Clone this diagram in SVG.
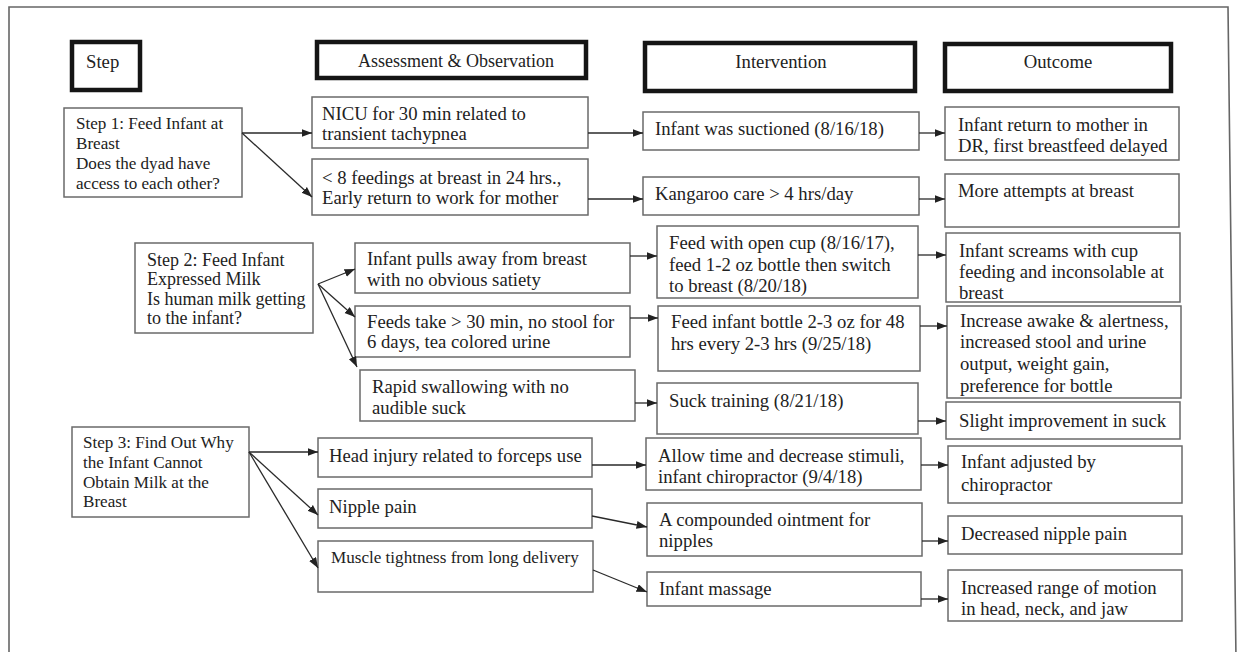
<svg xmlns="http://www.w3.org/2000/svg" width="1240" height="652" viewBox="0 0 1240 652">
<defs>
<marker id="ah" markerUnits="userSpaceOnUse" markerWidth="11" markerHeight="9" refX="10.5" refY="4" orient="auto">
<path d="M0,0 L10.5,4 L0,8 z" fill="#222"/>
</marker>
<style>
.b{fill:#fff;stroke:#6a6a6a;stroke-width:1.5}
.h{fill:#fff;stroke:#151515;stroke-width:4.5}
text{font-family:"Liberation Serif","Times New Roman",serif;font-size:18.7px;fill:#222}
.m{text-anchor:middle}
.s17 text{font-size:17.1px}
.s18 text{font-size:18px}
#connectors line{stroke:#2a2a2a;stroke-width:1.3;marker-end:url(#ah)}
</style>
</defs>
<rect width="1240" height="652" fill="#fff"/>
<path d="M9,660 L9,7 L1228,7 L1236,660" fill="none" stroke="#666" stroke-width="1.6"/>

<g id="hdr-step"><rect class="h" x="72" y="42" width="68" height="48"/><text x="86" y="68">Step</text></g>
<g id="hdr-assess" class="s18"><rect class="h" x="317" y="42" width="269" height="36"/><text class="m" x="456" y="67">Assessment &amp; Observation</text></g>
<g id="hdr-interv"><rect class="h" x="645" y="43" width="270" height="48"/><text class="m" x="781" y="68">Intervention</text></g>
<g id="hdr-outcome"><rect class="h" x="945" y="44" width="226" height="47"/><text class="m" x="1058" y="68">Outcome</text></g>

<g id="s1" class="s17"><rect class="b" x="64" y="108" width="178" height="89"/><text x="76" y="129">Step 1: Feed Infant at</text><text x="76" y="149">Breast</text><text x="76" y="169">Does the dyad have</text><text x="76" y="189">access to each other?</text></g>
<g id="s2" class="s18"><rect class="b" x="135" y="243" width="178" height="90"/><text x="147" y="266">Step 2: Feed Infant</text><text x="147" y="285">Expressed Milk</text><text x="147" y="305">Is human milk getting</text><text x="147" y="324">to the infant?</text></g>
<g id="s3" class="s17"><rect class="b" x="72" y="427" width="177" height="90"/><text x="83" y="448">Step 3: Find Out Why</text><text x="83" y="468">the Infant Cannot</text><text x="83" y="488">Obtain Milk at the</text><text x="83" y="507">Breast</text></g>

<g id="a1"><rect class="b" x="312" y="97" width="276" height="51"/><text x="322" y="120">NICU for 30 min related to</text><text x="322" y="140">transient tachypnea</text></g>
<g id="a2"><rect class="b" x="312" y="159" width="276" height="56"/><text x="322" y="184">&lt; 8 feedings at breast in 24 hrs.,</text><text x="322" y="204">Early return to work for mother</text></g>
<g id="a3"><rect class="b" x="355" y="243" width="275" height="50"/><text x="367" y="265">Infant pulls away from breast</text><text x="367" y="286">with no obvious satiety</text></g>
<g id="a4"><rect class="b" x="355" y="306" width="275" height="51"/><text x="367" y="328">Feeds take &gt; 30 min, no stool for</text><text x="367" y="348">6 days, tea colored urine</text></g>
<g id="a5"><rect class="b" x="360" y="370" width="275" height="51"/><text x="372" y="393">Rapid swallowing with no</text><text x="372" y="414">audible suck</text></g>
<g id="a6"><rect class="b" x="318" y="438" width="274" height="39"/><text x="329" y="462">Head injury related to forceps use</text></g>
<g id="a7"><rect class="b" x="318" y="489" width="274" height="39"/><text x="329" y="513">Nipple pain</text></g>
<g id="a8" class="s17"><rect class="b" x="318" y="541" width="275" height="51"/><text x="331" y="563">Muscle tightness from long delivery</text></g>

<g id="i1"><rect class="b" x="643" y="112" width="276" height="38"/><text x="655" y="135">Infant was suctioned (8/16/18)</text></g>
<g id="i2"><rect class="b" x="643" y="177" width="276" height="38"/><text x="655" y="200">Kangaroo care &gt; 4 hrs/day</text></g>
<g id="i3"><rect class="b" x="657" y="226" width="261" height="72"/><text x="669" y="249">Feed with open cup (8/16/17),</text><text x="669" y="271">feed 1-2 oz bottle then switch</text><text x="669" y="292">to breast (8/20/18)</text></g>
<g id="i4"><rect class="b" x="658" y="306" width="262" height="65"/><text x="671" y="328">Feed infant bottle 2-3 oz for 48</text><text x="671" y="350">hrs every 2-3 hrs (9/25/18)</text></g>
<g id="i5"><rect class="b" x="657" y="383" width="261" height="51"/><text x="669" y="407">Suck training (8/21/18)</text></g>
<g id="i6"><rect class="b" x="646" y="438" width="275" height="52"/><text x="658" y="462">Allow time and decrease stimuli,</text><text x="658" y="483">infant chiropractor (9/4/18)</text></g>
<g id="i7"><rect class="b" x="647" y="503" width="275" height="53"/><text x="659" y="526">A compounded ointment for</text><text x="659" y="547">nipples</text></g>
<g id="i8"><rect class="b" x="647" y="572" width="274" height="34"/><text x="659" y="595">Infant massage</text></g>

<g id="o1"><rect class="b" x="945" y="107" width="234" height="53"/><text x="958" y="131">Infant return to mother in</text><text x="958" y="152">DR, first breastfeed delayed</text></g>
<g id="o2"><rect class="b" x="945" y="174" width="234" height="53"/><text x="958" y="197">More attempts at breast</text></g>
<g id="o3"><rect class="b" x="946" y="233" width="234" height="69"/><text x="959" y="257">Infant screams with cup</text><text x="959" y="278">feeding and inconsolable at</text><text x="959" y="299">breast</text></g>
<g id="o4"><rect class="b" x="947" y="306" width="234" height="92"/><text x="960" y="327">Increase awake &amp; alertness,</text><text x="960" y="348">increased stool and urine</text><text x="960" y="370">output, weight gain,</text><text x="960" y="392">preference for bottle</text></g>
<g id="o5"><rect class="b" x="946" y="402" width="234" height="37"/><text x="959" y="427">Slight improvement in suck</text></g>
<g id="o6"><rect class="b" x="948" y="446" width="234" height="57"/><text x="961" y="468">Infant adjusted by</text><text x="961" y="491">chiropractor</text></g>
<g id="o7"><rect class="b" x="948" y="516" width="234" height="38"/><text x="961" y="540">Decreased nipple pain</text></g>
<g id="o8"><rect class="b" x="948" y="570" width="234" height="51"/><text x="961" y="594">Increased range of motion</text><text x="961" y="615">in head, neck, and jaw</text></g>

<g id="connectors">
<line x1="242" y1="133" x2="312" y2="133"/>
<line x1="242" y1="133" x2="312" y2="197"/>
<line x1="588" y1="133" x2="643" y2="133"/>
<line x1="588" y1="199" x2="643" y2="199"/>
<line x1="919" y1="133" x2="945" y2="133"/>
<line x1="919" y1="199" x2="945" y2="199"/>
<line x1="318" y1="284" x2="355" y2="269"/>
<line x1="318" y1="284" x2="355" y2="317"/>
<line x1="318" y1="284" x2="357" y2="367"/>
<line x1="630" y1="256" x2="657" y2="256"/>
<line x1="630" y1="318" x2="658" y2="318"/>
<line x1="635" y1="403" x2="657" y2="403"/>
<line x1="918" y1="255" x2="946" y2="255"/>
<line x1="920" y1="326" x2="947" y2="326"/>
<line x1="918" y1="421" x2="946" y2="421"/>
<line x1="249" y1="452" x2="318" y2="452"/>
<line x1="249" y1="452" x2="318" y2="515"/>
<line x1="249" y1="452" x2="318" y2="568"/>
<line x1="592" y1="465" x2="646" y2="465"/>
<line x1="592" y1="516" x2="647" y2="527"/>
<line x1="593" y1="570" x2="647" y2="592"/>
<line x1="921" y1="465" x2="948" y2="465"/>
<line x1="922" y1="541" x2="948" y2="541"/>
<line x1="921" y1="599" x2="948" y2="599"/>
</g>
</svg>
